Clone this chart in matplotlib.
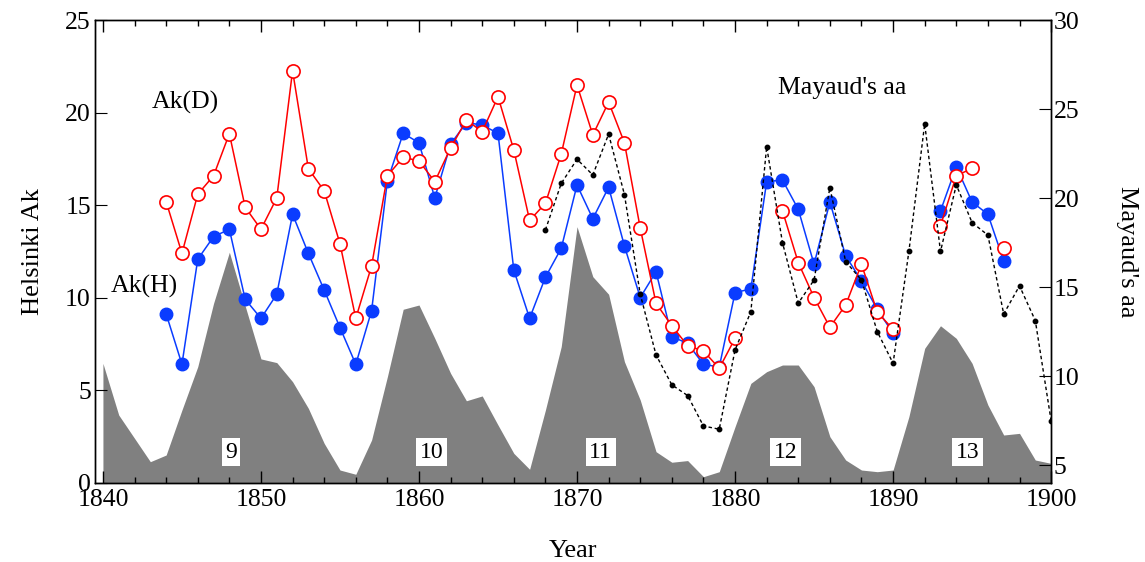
import numpy as np
import matplotlib
matplotlib.use('Agg')
import matplotlib.pyplot as plt
from matplotlib.ticker import MultipleLocator

plt.rcParams['font.family'] = ['Liberation Serif', 'DejaVu Serif']
plt.rcParams['mathtext.fontset'] = 'stix'

# ---- data ----
nan = np.nan

ak_years = np.arange(1844, 1898)
ak_h = [9.13, 6.41, 12.08, 13.30, 13.70, 9.92, 8.89, 10.19, 14.51, 12.40,
        10.42, 8.39, 6.41, 9.30, 16.31, 18.88, 18.37, 15.39, 18.30, 19.46,
        19.33, 18.88, 11.50, 8.89, 11.11, 12.67, 16.09, 14.27, 15.97, 12.80,
        10.01, 11.41, 7.90, 7.54, 6.41, 6.26, 10.28, 10.48, 16.27, 16.36,
        14.78, 11.81, 15.17, 12.27, 10.91, 9.38, 8.08, nan, nan, 14.69,
        17.08, 15.17, 14.51, 11.99]
ak_d = [15.19, 12.40, 15.59, 16.59, 18.86, 14.89, 13.70, 15.39, 22.26, 16.97,
        15.78, 12.92, 8.89, 11.72, 16.59, 17.59, 17.39, 16.27, 18.09, 19.60,
        18.97, 20.86, 17.98, 14.18, 15.10, 17.76, 21.49, 18.79, 20.57, 18.37,
        13.77, 9.70, 8.49, 7.41, 7.13, 6.19, 7.81, nan, nan, 14.70,
        11.90, 10.01, 8.41, 9.61, 11.81, 9.22, 8.30, nan, nan, 13.89,
        16.59, 16.99, nan, 12.67]

aa_years = np.arange(1868, 1901)
aa = [18.21, 20.82, 22.18, 21.30, 23.59, 20.20, 14.60, 11.19, 9.51, 8.91,
      7.20, 7.02, 11.47, 13.62, 22.89, 17.50, 14.10, 15.40, 20.59, 16.43,
      15.40, 12.50, 10.72, 17.00, 24.17, 17.00, 20.74, 18.62, 17.92, 13.49,
      15.07, 13.12, 7.50]

# scaled sunspot number (grey background)
ssn_years = np.arange(1840, 1901)
ssn = [6.46, 3.67, 2.41, 1.15, 1.51, 3.94, 6.28, 9.70, 12.46, 9.56,
       6.70, 6.50, 5.47, 4.03, 2.14, 0.70, 0.47, 2.32, 5.74, 9.38,
       9.61, 7.81, 5.92, 4.44, 4.70, 3.13, 1.60, 0.74, 3.94, 7.36,
       13.84, 11.14, 10.19, 6.55, 4.48, 1.69, 1.12, 1.21, 0.34, 0.61,
       3.04, 5.38, 6.01, 6.37, 6.37, 5.20, 2.50, 1.24, 0.70, 0.61,
       0.70, 3.58, 7.27, 8.49, 7.81, 6.46, 4.21, 2.59, 2.68, 1.24, 1.06]

cycle_names = ['9', '10', '11', '12', '13']
cycle_x = [1848.1, 1860.8, 1871.5, 1883.2, 1894.7]

# ---- figure ----
fig = plt.figure(figsize=(11.45, 5.62), dpi=100)
ax = fig.add_axes([0.083, 0.1406, 0.835, 0.8238])

ax.fill_between(ssn_years, 0, ssn, color='#808080', linewidth=0, zorder=1)

for name, x in zip(cycle_names, cycle_x):
    ax.text(x, 1.65, name, ha='center', va='center', fontsize=17, zorder=3,
            bbox=dict(facecolor='white', edgecolor='none', pad=2.5))

ax.plot(ak_years, ak_h, color='#0a3cff', marker='o', markersize=9,
        linewidth=1.1, zorder=4)
ax.plot(ak_years, ak_d, color='red', marker='o', markersize=9.5,
        markerfacecolor='white', markeredgewidth=1.2, linewidth=1.1, zorder=5)

ax.set_xlim(1839.5, 1900)
ax.set_ylim(0, 25)
ax.xaxis.set_major_locator(MultipleLocator(10))
ax.xaxis.set_minor_locator(MultipleLocator(2))
ax.yaxis.set_major_locator(MultipleLocator(5))
ax.tick_params(axis='x', which='both', direction='in', top=True, bottom=True,
               labelsize=18.5, pad=4)
ax.tick_params(axis='x', which='major', length=8.5, width=1)
ax.tick_params(axis='x', which='minor', length=4.5, width=1)
ax.tick_params(axis='y', which='major', direction='in', length=8.5,
               labelsize=18.5, pad=3)
ax.set_xlabel('Year', fontsize=19, labelpad=21)
ax.set_ylabel('Helsinki Ak', fontsize=19, labelpad=15)

ax.text(1845.2, 20.55, 'Ak(D)', fontsize=18.5, ha='center', va='center')
ax.text(1842.6, 10.6, 'Ak(H)', fontsize=18.5, ha='center', va='center')
ax.text(1886.8, 21.35, "Mayaud's aa", fontsize=18.5, ha='center', va='center')

# right axis: aa index
ax2 = ax.twinx()
ax2.plot(aa_years, aa, color='black', linestyle=(0, (2.5, 2)), linewidth=1,
         marker='o', markersize=3.2, zorder=6)
ax2.set_ylim(4, 30)
ax2.yaxis.set_major_locator(MultipleLocator(5))
ax2.tick_params(axis='y', direction='in', length=8.5, labelsize=18.5, pad=2)
ax2.set_ylabel("Mayaud's aa", fontsize=19, rotation=270, labelpad=42)

for a in (ax, ax2):
    for s in a.spines.values():
        s.set_linewidth(1)

fig.savefig('out.png', dpi=100)
